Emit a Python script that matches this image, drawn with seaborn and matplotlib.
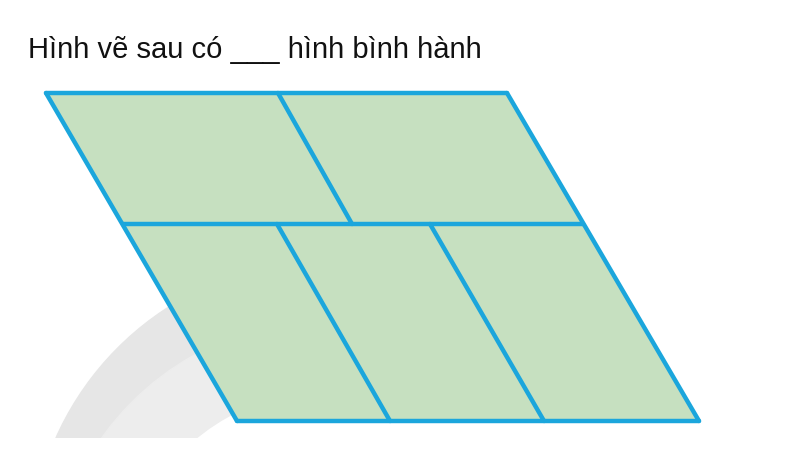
import matplotlib
matplotlib.use("Agg")
import matplotlib.pyplot as plt
import seaborn as sns
import pandas as pd
from matplotlib.patches import Polygon, Wedge, Rectangle

sns.set_theme(style="white")
plt.rcParams['font.family'] = ['Liberation Sans', 'DejaVu Sans']

title = "Hình vẽ sau có ___ hình bình hành"
outline_x = [46, 507, 699, 237]
outline_y = [93, 93, 421, 421]
seg_x0 = [46, 507, 237, 46, 123, 278, 277, 430]
seg_y0 = [93, 93, 421, 93, 224, 93, 224, 224]
seg_x1 = [507, 699, 699, 237, 583, 352, 390, 544]
seg_y1 = [93, 421, 421, 421, 224, 224, 421, 421]

fig = plt.figure(figsize=(7.9, 4.67), dpi=100)
ax = fig.add_axes([0, 0, 1, 1])
ax.set_xlim(0, 790)
ax.set_ylim(467, 0)
ax.axis("off")

clip = Rectangle((32, 240), 300, 198, transform=ax.transData)
for w in [Wedge((330, 560), 300, 180, 255, width=60, color="#e6e6e6", zorder=0),
          Wedge((330, 600), 280, 180, 245, width=70, color="#ededed", zorder=0)]:
    ax.add_patch(w)
    w.set_clip_path(clip)

ax.add_patch(Polygon(list(zip(outline_x, outline_y)), closed=True,
                     facecolor="#c6e0c0", edgecolor="none", zorder=1))
segs = pd.DataFrame({"x0": seg_x0, "y0": seg_y0, "x1": seg_x1, "y1": seg_y1})
for i, r in segs.iterrows():
    sns.lineplot(x=[r.x0, r.x1], y=[r.y0, r.y1], ax=ax, color="#1ba6dc",
                 linewidth=3.2, sort=False, estimator=None, zorder=2)

ax.text(28, 50, title, fontsize=21, color="#111111", va="center", ha="left")
fig.savefig("out.png", dpi=100)
